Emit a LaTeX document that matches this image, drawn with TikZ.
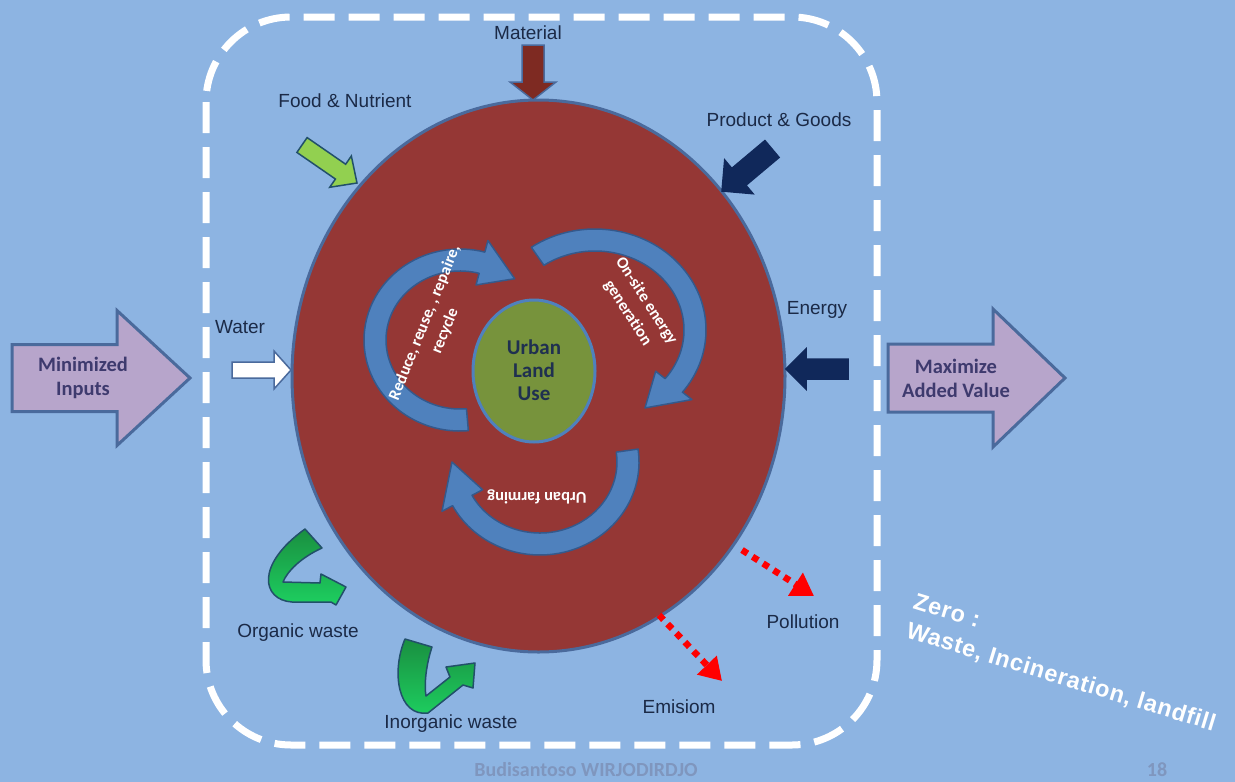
\documentclass[tikz,border=0pt]{standalone}
\usepackage{fontspec}
\setmainfont{Liberation Sans}
\newfontfamily\calibri[Ligatures=NoCommon]{Carlito}
\newfontfamily\zerofont[LetterSpace=3]{Liberation Sans}
\usetikzlibrary{calc,arrows.meta}
\definecolor{bg}{HTML}{8DB4E2}
\definecolor{ringred}{HTML}{953735}
\definecolor{edgeblue}{HTML}{4A6A9C}
\definecolor{landgreen}{HTML}{77933C}
\definecolor{navy}{HTML}{1B2A47}
\definecolor{landtext}{HTML}{1F3050}
\definecolor{cyc}{HTML}{4F81BD}
\definecolor{cycedge}{HTML}{34598C}
\definecolor{lav}{HTML}{B7A5CB}
\definecolor{lavtext}{HTML}{3E3A6E}
\definecolor{matred}{HTML}{7E2A22}
\definecolor{foodgreen}{HTML}{92D050}
\definecolor{darknavy}{HTML}{10285A}
\definecolor{wdark}{HTML}{1A8F40}
\definecolor{wlight}{HTML}{1DCF60}
\definecolor{wedge}{HTML}{22506A}
\definecolor{foot}{HTML}{7F96BE}

% block arrow: #1 tail centre, #2 tip, #3 shaft half width, #4 head half width, #5 head length, #6 style
\newcommand\blockarrow[6]{%
  \coordinate (ba-h) at ($#2!#5pt!#1$);
  \path[#6] ($#1!#3pt!90:#2$) -- ($(ba-h)!#3pt!-90:#1$) -- ($(ba-h)!#4pt!-90:#1$) -- #2
    -- ($(ba-h)!#4pt!90:#1$) -- ($(ba-h)!#3pt!90:#1$) -- ($#1!#3pt!-90:#2$) -- cycle;}

% curved band arrow: #1 centre, #2 rx, #3 ry, #4 start angle, #5 head-base angle,
% #6 band half width, #7 head extra, #8 tip angle offset, #9 style
\newcommand\bandarrow[9]{%
  \pgfmathsetmacro\bro{#2+#6}\pgfmathsetmacro\bRo{#3+#6}%
  \pgfmathsetmacro\bri{#2-#6}\pgfmathsetmacro\bRi{#3-#6}%
  \pgfmathsetmacro\brh{#2+#6+#7}\pgfmathsetmacro\bRh{#3+#6+#7}%
  \pgfmathsetmacro\brl{#2-#6-#7}\pgfmathsetmacro\bRl{#3-#6-#7}%
  \pgfmathsetmacro\btip{#5+#8}%
  \begin{scope}[shift={#1}]
  \path[#9] ({\bro*cos(#4)},{\bRo*sin(#4)})
    arc[start angle=#4,end angle=#5,x radius=\bro,y radius=\bRo]
    -- ({\brh*cos(#5)},{\bRh*sin(#5)})
    -- ({#2*cos(\btip)},{#3*sin(\btip)})
    -- ({\brl*cos(#5)},{\bRl*sin(#5)})
    -- ({\bri*cos(#5)},{\bRi*sin(#5)})
    arc[start angle=#5,end angle=#4,x radius=\bri,y radius=\bRi] -- cycle;
  \end{scope}}

\begin{document}
\begin{tikzpicture}[x=1pt,y=-1pt,
  lbl/.style={font=\fontsize{19}{22}\selectfont, text=navy, inner sep=0pt},
  cycst/.style={fill=cyc, draw=cycedge, line width=1.5pt, line join=round},
  wst/.style={top color=wdark, bottom color=wlight, draw=wedge, line width=1.5pt, line join=round},
  cyctext/.style={font=\calibri\bfseries\fontsize{16.5}{22}\selectfont, text=white, align=center, inner sep=0pt},
  bigtext/.style={font=\calibri\bfseries\fontsize{20.5}{24}\selectfont, text=lavtext, align=center, inner sep=0pt},
  bigarrow/.style={fill=lav, draw=edgeblue, line width=3pt, line join=miter},
  smallarrow/.style={draw=edgeblue, line width=1.5pt},
  reddots/.style={draw=red, line width=6.5pt, dash pattern=on 6.5pt off 6pt, -{Triangle[length=22pt,width=26pt]}},
  zero/.style={font=\zerofont\bfseries\fontsize{23.5}{27}\selectfont, text=white, inner sep=0pt, rotate=-17, anchor=base west},
  foottext/.style={font=\calibri\bfseries\fontsize{20}{22}\selectfont, text=foot, inner sep=0pt}
]
\fill[bg] (0,0) rectangle (1235,782);
\useasboundingbox (0,0) rectangle (1235,782);

% dashed boundary
\draw[white, line width=7pt, dash pattern=on 31pt off 14pt, rounded corners=85pt] (206,17) rectangle (877,745);

% city ellipse
\filldraw[fill=ringred, draw=edgeblue, line width=3pt] (538.5,376) ellipse [x radius=246.5, y radius=276];

% urban land use circle
\filldraw[fill=landgreen, draw=cyc, line width=3pt] (534,371) ellipse [x radius=61, y radius=71];
\node[font=\calibri\bfseries\fontsize{21}{23}\selectfont, text=landtext, align=center, inner sep=0pt] (ulu) at (534,370) {Urban\\Land\\Use};

% cycle arrows
\bandarrow{(460,340)}{85}{80}{85}{285}{11}{12}{25}{cycst}
\bandarrow{(595,330)}{100}{90}{235}{398}{11}{12}{22}{cycst}
\bandarrow{(540,462)}{88}{82}{-8}{152}{11}{12}{28}{cycst}

\node[cyctext, rotate=68] (rrr) at (435,327) {Reduce, reuse, , repaire,\\recycle};
\node[cyctext, rotate=-57] (ose) at (637,307) {On-site energy\\generation};
\node[cyctext, rotate=180] (ufa) at (537,497) {Urban farming};

% big side arrows
\blockarrow{(12,378)}{(190,378)}{33.5}{67.5}{73}{bigarrow}
\node[bigtext] (mi) at (83,378) {Minimized\\Inputs};
\blockarrow{(888,378)}{(1065,378)}{34}{69}{72}{bigarrow}
\node[bigtext] (mav) at (956,378) {Maximize\\Added Value};

% input arrows
\blockarrow{(533,45)}{(533,100)}{11}{23}{18}{smallarrow, fill=matred}
\blockarrow{(302,145)}{(357,183)}{9}{19}{20}{smallarrow, draw=wedge, fill=foodgreen}
\blockarrow{(772,149)}{(722,191)}{11}{22}{22}{smallarrow, draw=darknavy, fill=darknavy}
\blockarrow{(232,370)}{(291,370)}{8}{19}{17}{smallarrow, fill=white}
\blockarrow{(848,369)}{(786,369)}{10}{20}{20}{smallarrow, draw=darknavy, fill=darknavy}

% waste arrows
\path[wst] (305,529) -- (322,548) .. controls (300,558) and (287,572) .. (283,582)
  -- (320,583) -- (321,574) -- (346,587) -- (336,605) -- (331,602) -- (292,602)
  .. controls (262,600) and (255,565) .. (305,529) -- cycle;
\path[wst] (405,639) -- (432,647) .. controls (426,665) and (424,685) .. (426,696)
  -- (450,677) -- (446,667) -- (475,663) -- (473,688) -- (463,685) -- (428,713)
  .. controls (398,717) and (391,672) .. (405,639) -- cycle;

% pollution / emission
\coordinate (pol-s) at (742,550);
\coordinate (pol-e) at (814,596);
\coordinate (emi-s) at (659,615);
\coordinate (emi-e) at (722,681);
\draw[reddots] (pol-s) -- (pol-e);
\draw[reddots] (emi-s) -- (emi-e);

% labels
\node[lbl] (mat) at (528,33) {Material};
\node[lbl] (food) at (345,101) {Food \& Nutrient};
\node[lbl] (prod) at (779,120) {Product \& Goods};
\node[lbl] (wat) at (240,327) {Water};
\node[lbl] (ene) at (817,310) {Energy};
\node[lbl] (org) at (298,633) {Organic waste};
\node[lbl] (inorg) at (451,724) {Inorganic waste};
\node[lbl] (pol) at (803,622) {Pollution};
\node[lbl] (emi) at (679,707) {Emisiom};

% zero statement
\node[zero] (z1) at (912,608) {Zero :};
\node[zero] (z2) at (905,637) {Waste, Incineration, landfill};

% footer
\node[foottext] (auth) at (586,770) {Budisantoso WIRJODIRDJO};
\node[foottext] (pg) at (1157,770) {18};
\end{tikzpicture}
\end{document}
